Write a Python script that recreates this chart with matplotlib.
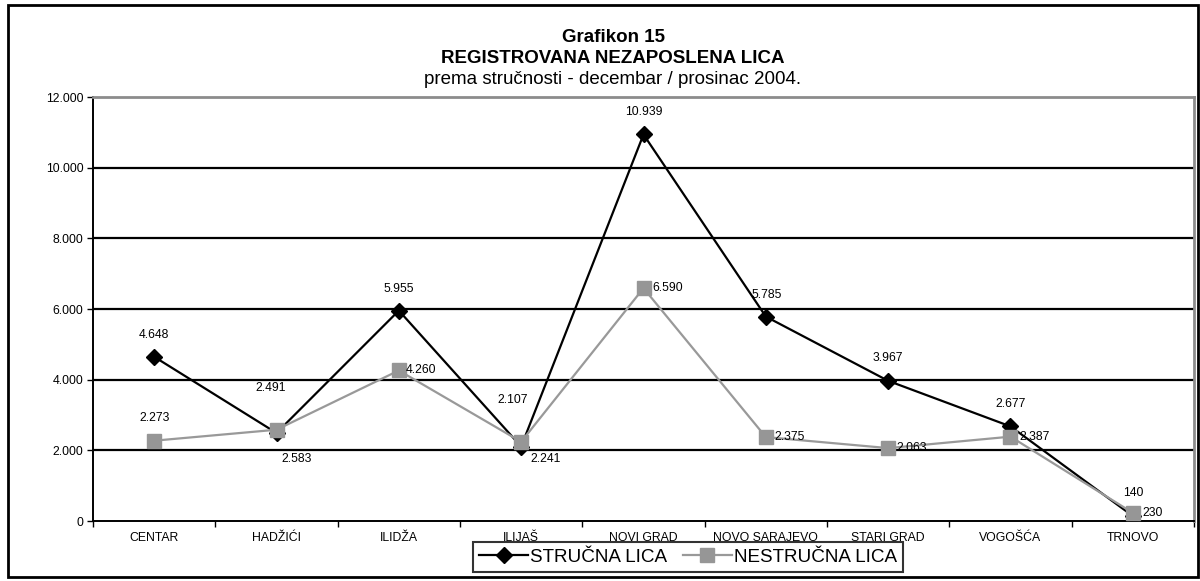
import matplotlib
matplotlib.use("Agg")
import matplotlib.pyplot as plt
from matplotlib.patches import Rectangle
from matplotlib.ticker import FuncFormatter

plt.rcParams["font.family"] = ["Liberation Sans", "DejaVu Sans"]

# data
opstine = ["CENTAR", "HADŽIĆI", "ILIDŽA", "ILIJAŠ", "NOVI GRAD",
           "NOVO SARAJEVO", "STARI GRAD", "VOGOŠĆA", "TRNOVO"]
strucna = [4648, 2491, 5955, 2107, 10939, 5785, 3967, 2677, 140]
nestrucna = [2273, 2583, 4260, 2241, 6590, 2375, 2063, 2387, 230]

# label offsets (pixels, dx, dy)
off_strucna = [(0, 22), (-6, 45), (0, 22), (-8, 47), (0, 22), (1, 22), (0, 23), (0, 22), (0, 23)]
off_nestrucna = [(0, 23), (20, -29), (22, 0), (24, -17), (24, 0), (24, 0), (24, 0), (24, 0), (20, 0)]


def fmt_broj(v, pos=None):
    return f"{int(v):,}".replace(",", ".")


fig = plt.figure(figsize=(12, 5.81), dpi=100)
ax = fig.add_axes([93 / 1200, 60 / 581, 1101 / 1200, 424 / 581])

x = list(range(len(opstine)))
for y in range(2000, 12000, 2000):
    ax.axhline(y, color="black", lw=1.6, zorder=0)

ax.plot(x, strucna, color="black", lw=1.6, marker="D", ms=8,
        label="STRUČNA LICA", zorder=3)
ax.plot(x, nestrucna, color="#999999", lw=1.6, marker="s", ms=10,
        markerfacecolor="#969696", markeredgecolor="#969696",
        label="NESTRUČNA LICA", zorder=4)

px = 0.72
for i, v in enumerate(strucna):
    dx, dy = off_strucna[i]
    ax.annotate(fmt_broj(v), (i, v), xytext=(dx * px, dy * px), textcoords="offset points",
                ha="center", va="center", fontsize=8.7, zorder=5)
for i, v in enumerate(nestrucna):
    dx, dy = off_nestrucna[i]
    ax.annotate(fmt_broj(v), (i, v), xytext=(dx * px, dy * px), textcoords="offset points",
                ha="center", va="center", fontsize=8.7, zorder=5)

ax.set_xlim(-0.5, len(opstine) - 0.5)
ax.set_ylim(0, 12000)
ax.set_yticks(range(0, 12001, 2000))
ax.yaxis.set_major_formatter(FuncFormatter(fmt_broj))
ax.set_xticks([i - 0.5 for i in range(len(opstine) + 1)], minor=False)
ax.set_xticklabels([])
ax.set_xticks(x, minor=True)
ax.set_xticklabels(opstine, minor=True)
ax.tick_params(axis="x", which="minor", length=0, pad=8, labelsize=8.8)
ax.tick_params(axis="x", which="major", length=4, width=1, direction="out")
ax.tick_params(axis="y", length=4, width=1, labelsize=8.8, pad=3)

for s in ["top", "right"]:
    ax.spines[s].set_color("#8c8c8c")
    ax.spines[s].set_linewidth(2)
for s in ["left", "bottom"]:
    ax.spines[s].set_color("black")
    ax.spines[s].set_linewidth(1.4)

leg = ax.legend(loc="upper center", bbox_to_anchor=(688 / 1200, 1 - 542 / 581),
                bbox_transform=fig.transFigure, ncol=2, fontsize=13.6,
                frameon=True, fancybox=False, borderpad=0.35, handlelength=2.6,
                handletextpad=0.1, columnspacing=0.8, borderaxespad=0)
leg.get_frame().set_edgecolor("black")
leg.get_frame().set_linewidth(1.5)

fig.text(613 / 1200, 1 - 42 / 581, "Grafikon 15", ha="center", va="baseline",
         fontsize=13.5, fontweight="bold")
fig.text(613 / 1200, 1 - 63 / 581, "REGISTROVANA NEZAPOSLENA LICA", ha="center",
         va="baseline", fontsize=13.5, fontweight="bold")
fig.text(613 / 1200, 1 - 84 / 581, "prema stručnosti - decembar / prosinac 2004.",
         ha="center", va="baseline", fontsize=13.5)

fig.patches.append(Rectangle((8 / 1200, 4 / 581), 1190 / 1200, 572 / 581,
                             transform=fig.transFigure, fill=False,
                             edgecolor="black", lw=2))

fig.savefig("out.png", dpi=100)
